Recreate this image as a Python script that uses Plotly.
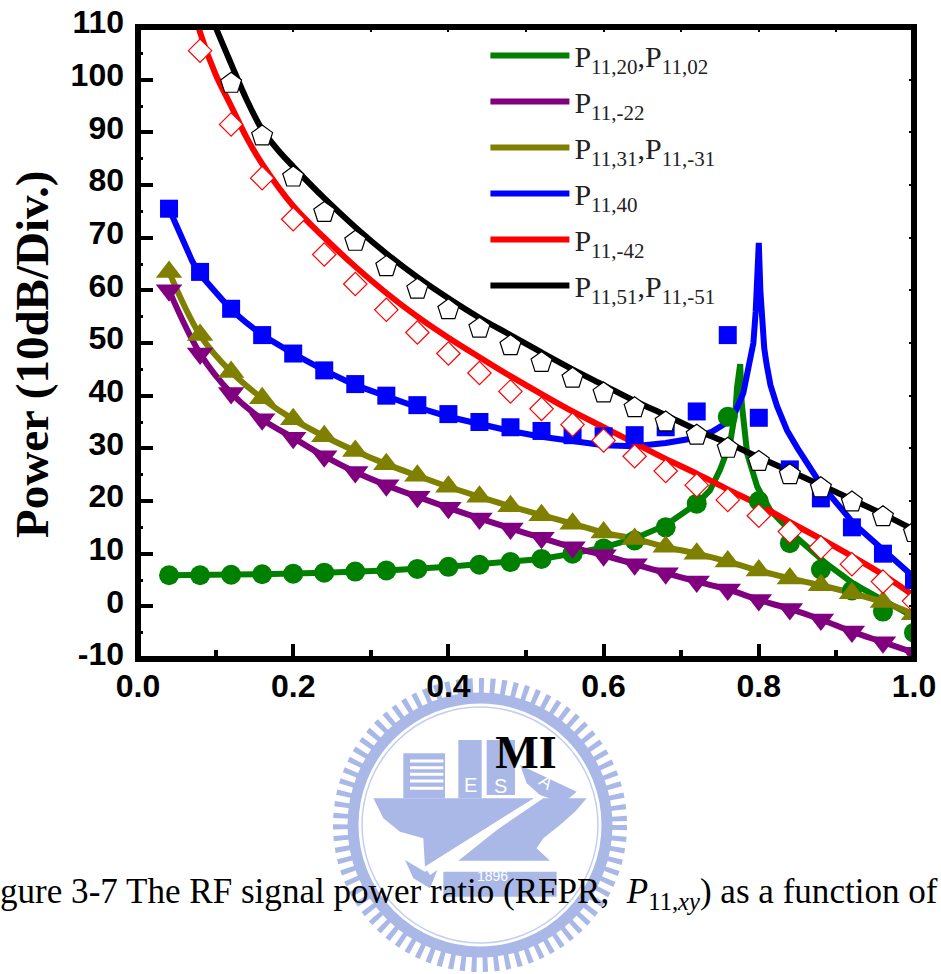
import plotly.graph_objects as go

# ---------- data ----------
mi_markers = [0.04, 0.08, 0.12, 0.16, 0.20, 0.24, 0.28, 0.32, 0.36, 0.40, 0.44, 0.48, 0.52,
              0.56, 0.60, 0.64, 0.68, 0.72, 0.76, 0.80, 0.84, 0.88, 0.92, 0.96, 1.00]

pts_p20 = [5.9, 5.9, 6.0, 6.1, 6.2, 6.4, 6.6, 6.8, 7.1, 7.5, 7.9, 8.4, 9.0, 10.0, 11.0, 12.5,
           15.0, 19.5, 36.0, 20.0, 12.0, 7.0, 3.0, -1.0, -5.0]
pts_p22 = [60, 48, 40.5, 35.5, 32, 28.5, 25.5, 23, 20.8, 18.7, 16.7, 14.8, 13, 11.2, 9.7, 8,
           6.3, 4.7, 3.2, 1.2, -0.5, -2.5, -4.8, -6.8, -8.8]
pts_p31 = [63.5, 51.5, 44.5, 39.5, 35.5, 32.3, 29.5, 27, 24.8, 22.7, 20.8, 19, 17.3, 15.7, 14,
           12.8, 11.3, 10, 8.5, 6.8, 5.3, 4, 2.5, 0.8, -1.5]
pts_p40 = [75.5, 63.5, 56.5, 51.5, 48, 44.8, 42.2, 40, 38.2, 36.5, 35, 34, 33.3, 32.5, 32.3,
           32.5, 34, 37, 51.5, 35.8, 26, 20.5, 15, 10, 5]
pts_p42_x = mi_markers[1:]
pts_p42 = [105.5, 91.5, 81.3, 73.5, 66.8, 61.2, 56.3, 52, 48, 44.3, 40.8, 37.5, 34.5, 31.5,
           28.5, 25.7, 23, 20.2, 17.2, 14.2, 11.2, 8, 4.7, 1]
pts_p51_x = mi_markers[2:]
pts_p51 = [99.3, 89.3, 81.5, 74.8, 69.3, 64.5, 60.2, 56.3, 52.8, 49.5, 46.3, 43.3, 40.5, 37.7,
           35, 32.5, 30, 27.5, 25, 22.5, 19.8, 17, 14]

line_p20_x = [0.04, 0.08, 0.16, 0.24, 0.32, 0.40, 0.48, 0.52, 0.56, 0.60, 0.64, 0.68, 0.72, 0.737,
              0.75, 0.763, 0.77, 0.772, 0.776, 0.778, 0.785, 0.798, 0.815, 0.849, 0.888, 0.922, 0.961, 1.0]
line_p20_y = [5.9, 5.9, 6.1, 6.4, 6.8, 7.5, 8.4, 9.0, 10.0, 11.2, 12.9, 15.4, 19.5, 22.0,
              25.9, 31.0, 37.3, 41.6, 46.0, 38.6, 29.0, 22.7, 18.2, 13.0, 8.0, 4.3, 1.1, -2.0]
line_p40_x = [0.04, 0.05, 0.06, 0.07, 0.08, 0.10, 0.12, 0.14, 0.16, 0.20, 0.24, 0.28, 0.32, 0.36, 0.40,
              0.44, 0.48, 0.52, 0.56, 0.60, 0.64, 0.68, 0.72, 0.74, 0.76, 0.77, 0.78, 0.785, 0.79, 0.793,
              0.796, 0.798, 0.80, 0.802, 0.804, 0.807, 0.81, 0.815, 0.8235, 0.83, 0.8364, 0.85, 0.8622, 0.8794,
              0.9224, 0.9654, 1.0]
line_p40_y = [75.5, 72, 68.5, 65.5, 63, 59.5, 56.3, 53.8, 51.5, 48, 44.8, 42, 39.8, 37.8, 36,
              34.6, 33.3, 32.2, 31.3, 30.6, 30.4, 31, 32, 33.2, 35, 37, 40.5, 44, 47.5, 50,
              56, 61, 69, 60, 54, 49, 46, 42, 38, 35.5, 33.4, 30, 27, 23.3, 15.7, 10, 5.5]
line_p42_x = [0.075, 0.08, 0.10, 0.12, 0.14, 0.16, 0.20, 0.24, 0.28, 0.32, 0.36, 0.40, 0.44, 0.48, 0.52,
              0.56, 0.60, 0.64, 0.68, 0.72, 0.76, 0.80, 0.84, 0.88, 0.92, 0.96, 1.0]
line_p42_y = [112, 109, 101, 95, 89, 84, 76, 70, 64.5, 59.5, 55, 51, 47.3, 43.7, 40.3,
              37, 34, 31, 28, 25.2, 22.2, 19.3, 16, 12.8, 9.5, 6, 2]
line_p51_x = [0.095, 0.10, 0.12, 0.14, 0.16, 0.18, 0.20, 0.24, 0.28, 0.32, 0.36, 0.40, 0.44, 0.48, 0.52, 0.56,
              0.60, 0.64, 0.68, 0.72, 0.76, 0.80, 0.84, 0.88, 0.92, 0.96, 1.0]
line_p51_y = [112, 110, 103, 96.2, 90.5, 86.7, 83.5, 77.5, 72, 67, 62.5, 58.5, 54.8, 51.5, 48.2, 45,
              42, 39, 36.3, 33.5, 31, 28.3, 25.7, 23, 20.3, 17.5, 14.5]

x_ticks = [0.0, 0.2, 0.4, 0.6, 0.8, 1.0]
y_ticks = [-10, 0, 10, 20, 30, 40, 50, 60, 70, 80, 90, 100, 110]

GREEN, PURPLE, OLIVE, BLUE, RED, BLACK = "#008000", "#800080", "#808000", "#0000ff", "#ff0000", "#000000"
SERIF = "Liberation Serif"
SANS = "Liberation Sans"

names = ["P<sub>11,20</sub>,P<sub>11,02</sub>", "P<sub>11,-22</sub>", "P<sub>11,31</sub>,P<sub>11,-31</sub>",
         "P<sub>11,40</sub>", "P<sub>11,-42</sub>", "P<sub>11,51</sub>,P<sub>11,-51</sub>"]

fig = go.Figure()

# lines first (these carry the legend)
line_sets = [(line_p20_x, line_p20_y, GREEN, "linear"),
             (mi_markers, pts_p22, PURPLE, "spline"),
             (mi_markers, pts_p31, OLIVE, "spline"),
             (line_p40_x, line_p40_y, BLUE, "linear"),
             (line_p42_x, line_p42_y, RED, "spline"),
             (line_p51_x, line_p51_y, BLACK, "spline")]
for i, (lx, ly, col, sh) in enumerate(line_sets):
    fig.add_trace(go.Scatter(x=lx, y=ly, mode="lines", name=names[i], legendgroup=f"g{i}",
                             line=dict(color=col, width=6, shape=sh)))

# markers on top
marker_sets = [(mi_markers, pts_p20, "circle", 20, GREEN, GREEN, 0),
               (mi_markers, pts_p22, "triangle-down", 23, PURPLE, PURPLE, 0),
               (mi_markers, pts_p31, "triangle-up", 23, OLIVE, OLIVE, 0),
               (mi_markers, pts_p40, "square", 18, BLUE, BLUE, 0),
               (pts_p42_x, pts_p42, "diamond", 18, "white", RED, 1.2),
               (pts_p51_x, pts_p51, "pentagon", 22, "white", BLACK, 1.2)]
for mx, my, sym, sz, fc, lc, lw in marker_sets:
    fig.add_trace(go.Scatter(x=mx, y=my, mode="markers", showlegend=False,
                             marker=dict(symbol=sym, size=sz, color=fc, line=dict(color=lc, width=lw))))

# helper trace that makes the small top/right tick axes appear
fig.add_trace(go.Scatter(x=[0], y=[0], xaxis="x2", yaxis="y2", mode="markers", showlegend=False,
                         marker=dict(opacity=0), hoverinfo="skip"))

# ---------- faint seal behind the chart (decoration, positioned in pixels) ----------
L, R, T, B = 138.0, 914.0, 27.0, 659.0
def px(x): return (x - L) / (R - L)
def py(y): return (B - y) / (B - T)
def zx(z): return px(330 + z / 3)
def zy(z): return py(675 + z / 3)
def poly(pts, close=True):
    d = "M " + " L ".join(f"{zx(a):.4f},{zy(b):.4f}" for a, b in pts)
    return d + (" Z" if close else "")

SEAL = "#a9b8e6"
shapes = []
cx, cy = 480, 825
def circle(r, col, w, dash="solid"):
    return dict(type="circle", xref="paper", yref="paper", layer="below",
                x0=px(cx - r), x1=px(cx + r), y0=py(cy + r), y1=py(cy - r),
                line=dict(color=col, width=w, dash=dash), fillcolor="rgba(0,0,0,0)")
shapes.append(circle(138, SEAL, 18, "5px,6px"))
shapes.append(circle(127, SEAL, 11))
shapes.append(circle(118, "#c3cff0", 1.5))
seal_polys = [
    [(130, 370), (770, 370), (735, 410), (690, 450), (640, 490), (620, 520), (660, 557), (385, 557),
     (620, 370), (620, 365), (285, 575), (280, 490), (210, 470), (160, 430)],
    [(220, 235), (345, 235), (345, 370), (220, 370)],
    [(385, 195), (455, 195), (455, 370), (385, 370)],
    [(470, 195), (555, 195), (555, 360), (470, 360)],
    [(570, 270), (740, 350), (700, 385), (630, 360), (590, 325)],
    [(225, 555), (285, 590), (330, 570), (320, 590), (300, 640), (250, 610)],
    [(340, 590), (680, 590), (680, 665), (340, 665)],
    [(285, 575), (620, 365), (640, 370), (300, 600)],
]
for k, p in enumerate(seal_polys):
    col = "white" if k == 7 else SEAL
    shapes.append(dict(type="path", xref="paper", yref="paper", layer="below", path=poly(p),
                       fillcolor=col, line=dict(color=col, width=0)))
for yy in (258, 278, 298, 318, 340):
    shapes.append(dict(type="line", xref="paper", yref="paper", layer="below",
                       x0=zx(240), x1=zx(340), y0=zy(yy), y1=zy(yy), line=dict(color="white", width=3)))

# heavy frame, centred on the edges of the plot area
shapes.append(dict(type="rect", xref="paper", yref="paper", layer="above", x0=0, x1=1, y0=0, y1=1,
                   line=dict(color="black", width=6), fillcolor="rgba(0,0,0,0)"))

def ann(x, y, text, size, bold=False, color="black", family=SERIF, angle=0, anchor="center"):
    t = f"<b>{text}</b>" if bold else text
    return dict(x=px(x), y=py(y), xref="paper", yref="paper", text=t, showarrow=False, textangle=angle,
                xanchor=anchor, yanchor="middle", font=dict(family=family, size=size, color=color))

annotations = [
    ann(470, 785, "E", 20, color="white", family=SANS),
    ann(500, 786, "S", 20, color="white", family=SANS),
    ann(546, 782, "A", 18, color="white", family=SANS, angle=35),
    ann(492, 876, "1896", 14, color="white", family=SANS),
    ann(32, 355, "Power (10dB/Div.)", 47, bold=True, angle=-90),
    ann(-2, 893, "gure 3-7 The RF signal power ratio (RFPR,  <i>P</i><sub>11,<i>xy</i></sub>) as a function of",
        35.1, anchor="left"),
]

axis_font = dict(family=SANS, size=32, color="black", weight=700)
fig.update_layout(
    width=941, height=974,
    margin=dict(l=L, r=941 - R, t=T, b=974 - B, pad=0, autoexpand=False),
    paper_bgcolor="white", plot_bgcolor="rgba(0,0,0,0)",
    shapes=shapes, annotations=annotations,
    showlegend=True,
    legend=dict(x=0.4477, y=0.996, xanchor="left", yanchor="top", bgcolor="rgba(0,0,0,0)",
                font=dict(family=SERIF, size=30, color="#222222"), itemwidth=79,
                tracegroupgap=4, traceorder="grouped"),
    xaxis=dict(range=[0, 1], tickmode="array", tickvals=x_ticks, ticktext=[f"{v:.1f}" for v in x_ticks],
               ticks="inside", ticklen=15, tickwidth=4, tickcolor="black", showgrid=False, zeroline=False,
               showline=False, tickfont=axis_font, ticklabelstandoff=5,
               title=dict(text="<b>MI</b>", font=dict(family=SERIF, size=46, color="black"), standoff=32),
               minor=dict(tickmode="array", tickvals=[0.1, 0.3, 0.5, 0.7, 0.9], ticks="inside", ticklen=9,
                          tickwidth=4, tickcolor="black", showgrid=False)),
    yaxis=dict(range=[-10, 110], tickmode="array", tickvals=y_ticks, ticktext=[str(v) for v in y_ticks],
               ticks="inside", ticklen=15, tickwidth=4, tickcolor="black", showgrid=False, zeroline=False,
               showline=False, tickfont=axis_font, ticklabelstandoff=13, ticklabelshift=-5,
               minor=dict(tickmode="array", tickvals=[v + 5 for v in y_ticks[:-1]], ticks="inside", ticklen=5,
                          tickwidth=3, tickcolor="black", showgrid=False)),
    xaxis2=dict(range=[0, 1], overlaying="x", side="top", anchor="y2", dtick=0.1, ticks="inside", ticklen=5,
                tickwidth=2, tickcolor="black", showticklabels=False, showgrid=False, zeroline=False),
    yaxis2=dict(range=[-10, 110], overlaying="y", side="right", anchor="x2", dtick=10, ticks="inside", ticklen=5,
                tickwidth=2, tickcolor="black", showticklabels=False, showgrid=False, zeroline=False),
)

fig.write_html("out.html", config={"displayModeBar": False}, post_script="document.body.style.margin='0';")
